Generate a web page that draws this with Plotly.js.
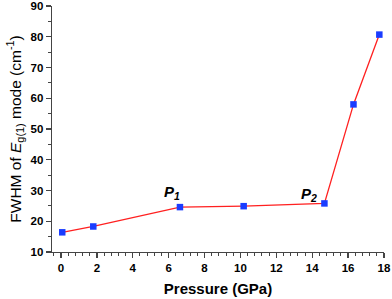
<!DOCTYPE html>
<html><head><meta charset="utf-8">
<script src="https://cdn.plot.ly/plotly-3.0.1.min.js"></script>
<style>html,body{margin:0;padding:0;background:#fff}#c{width:392px;height:299px}</style>
</head><body><div id="c"></div>
<script>
var pressure = [0.07, 1.8, 6.63, 10.18, 14.68, 16.3, 17.74];
var fwhm = [16.4, 18.3, 24.6, 24.9, 25.8, 58.0, 80.7];
var xTicks = [0, 2, 4, 6, 8, 10, 12, 14, 16, 18];
var yTicks = [10, 20, 30, 40, 50, 60, 70, 80, 90];
var phaseLabels = ["<i>P</i><sub><i>1</i></sub>", "<i>P</i><sub><i>2</i></sub>"];
var phaseX = [6.2, 13.8];
var phaseY = [29.2, 28.8];

var data = [{
  x: pressure, y: fwhm, type: "scatter", mode: "lines+markers",
  line: {color: "#ff2020", width: 1.3},
  marker: {symbol: "square", size: 6.5, color: "#1a3cff", line: {width: 0}},
  cliponaxis: false
}];
var layout = {
  width: 392, height: 299,
  margin: {l: 52, r: 8, t: 6, b: 47},
  showlegend: false,
  paper_bgcolor: "#fff", plot_bgcolor: "#fff",
  xaxis: {
    range: [-0.5, 18], tickvals: xTicks, ticktext: xTicks.map(String),
    showgrid: false, zeroline: false, showline: true, linecolor: "#444", linewidth: 1.3,
    ticks: "outside", ticklen: 5, tickcolor: "#444", tickwidth: 1.3,
    ticklabeloverflow: "allow",
    tickfont: {family: "Liberation Sans, Arial", size: 11.5, color: "#000", weight: "bold"},
    minor: {dtick: 0.4, tick0: 0, ticks: "outside", ticklen: 3, tickcolor: "#444", tickwidth: 1, showgrid: false},
    title: {text: "<b>Pressure (GPa)</b>", font: {family: "Liberation Sans, Arial", size: 15, color: "#000"}, standoff: 10}
  },
  yaxis: {
    range: [10, 90], tickvals: yTicks, ticktext: yTicks.map(String),
    showgrid: false, zeroline: false, showline: true, linecolor: "#444", linewidth: 1.3,
    ticks: "outside", ticklen: 5, tickcolor: "#444", tickwidth: 1.3,
    ticklabeloverflow: "allow",
    tickfont: {family: "Liberation Sans, Arial", size: 11.5, color: "#000", weight: "bold"},
    minor: {dtick: 5, tick0: 0, ticks: "outside", ticklen: 3, tickcolor: "#444", tickwidth: 1, showgrid: false},
    title: {text: "FWHM of <i>E</i><sub>g(1)</sub> mode (cm<sup>-1</sup>)", font: {family: "Liberation Sans, Arial", size: 15.5, color: "#000"}, standoff: 5}
  },
  annotations: phaseLabels.map(function(t, i){
    return {x: phaseX[i], y: phaseY[i], xref: "x", yref: "y", text: "<b>" + t + "</b>", showarrow: false,
      font: {family: "Liberation Sans, Arial", size: 15, color: "#000"}};
  })
};
Plotly.newPlot("c", data, layout, {displayModeBar: false, staticPlot: true});
</script></body></html>
